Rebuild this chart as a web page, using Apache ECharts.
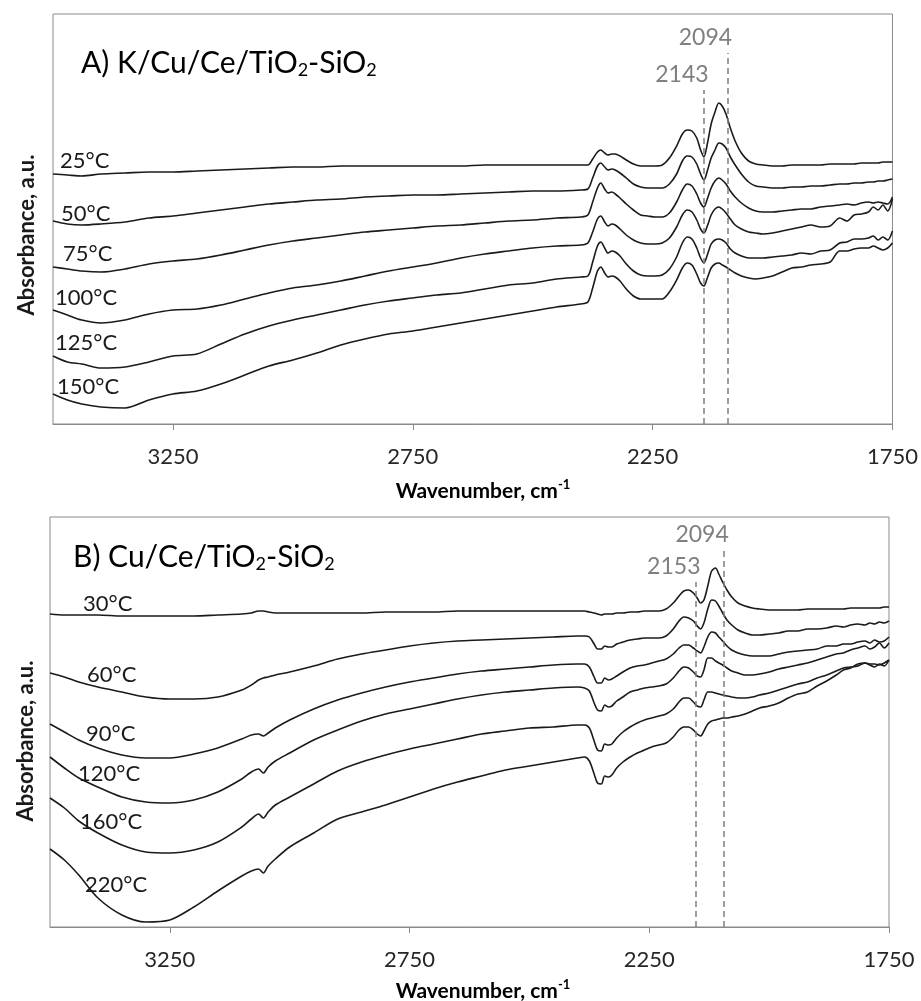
<!DOCTYPE html>
<html>
<head>
<meta charset="utf-8">
<script src="https://cdn.jsdelivr.net/npm/echarts@6/dist/echarts.min.js"></script>
<style>
  html, body { margin: 0; padding: 0; background: #ffffff; }
  #chart { width: 921px; height: 1001px; }
</style>
</head>
<body>
<div id="chart"></div>
<script>
// ---------------- Panel A: K/Cu/Ce/TiO2-SiO2 (CO adsorption, DRIFTS) ----------------
const wnA = [3500,3470,3440,3400,3350,3300,3250,3200,3150,3100,
             3050,3000,2950,2900,2850,2800,2750,2700,2650,2600,
             2550,2500,2450,2400,2385,2375,2365,2358,2350,2343,
             2335,2328,2318,2305,2290,2275,2260,2245,2230,2215,
             2200,2188,2178,2168,2158,2150,2143,2136,2128,2120,
             2112,2105,2097,2088,2078,2065,2050,2035,2020,2000,
             1980,1960,1940,1920,1900,1880,1860,1845,1830,1815,
             1800,1790,1780,1770,1760,1750];

const a25 = [2.50,2.49,2.48,2.50,2.51,2.52,2.52,2.53,2.54,2.55,
             2.56,2.57,2.57,2.58,2.58,2.58,2.58,2.58,2.58,2.59,
             2.59,2.59,2.59,2.59,2.59,2.65,2.72,2.74,2.71,2.69,
             2.70,2.70,2.68,2.64,2.60,2.58,2.58,2.58,2.59,2.66,
             2.78,2.90,2.94,2.93,2.86,2.74,2.67,2.80,3.00,3.12,
             3.21,3.18,3.10,2.96,2.83,2.71,2.63,2.60,2.59,2.58,
             2.58,2.59,2.59,2.59,2.59,2.60,2.60,2.60,2.60,2.61,
             2.61,2.61,2.61,2.62,2.62,2.62];

const a50 = [2.03,2.00,1.99,2.00,2.02,2.06,2.08,2.11,2.14,2.17,
             2.20,2.22,2.24,2.25,2.27,2.28,2.29,2.29,2.30,2.31,
             2.32,2.33,2.33,2.34,2.35,2.46,2.58,2.61,2.57,2.54,
             2.55,2.54,2.51,2.46,2.40,2.37,2.36,2.36,2.36,2.40,
             2.50,2.63,2.68,2.67,2.60,2.50,2.44,2.53,2.66,2.74,
             2.81,2.80,2.76,2.67,2.59,2.50,2.42,2.38,2.37,2.36,
             2.36,2.37,2.37,2.38,2.38,2.39,2.40,2.40,2.41,2.41,
             2.42,2.42,2.43,2.43,2.44,2.45];

const a75 = [1.57,1.55,1.53,1.52,1.55,1.60,1.63,1.65,1.69,1.74,
             1.79,1.83,1.86,1.89,1.92,1.94,1.96,1.98,1.99,2.01,
             2.03,2.04,2.06,2.07,2.09,2.22,2.36,2.41,2.35,2.31,
             2.32,2.30,2.26,2.20,2.14,2.09,2.08,2.07,2.07,2.11,
             2.22,2.34,2.40,2.38,2.30,2.21,2.17,2.25,2.36,2.43,
             2.46,2.44,2.40,2.33,2.27,2.21,2.16,2.13,2.12,2.12,
             2.13,2.14,2.15,2.15,2.17,2.18,2.19,2.20,2.19,2.21,
             2.22,2.21,2.22,2.21,2.20,2.27];

const a100 = [1.14,1.09,1.04,1.01,1.04,1.10,1.14,1.15,1.19,1.25,
              1.31,1.36,1.39,1.43,1.48,1.53,1.57,1.61,1.66,1.70,
              1.73,1.76,1.78,1.79,1.81,1.92,2.05,2.08,2.02,1.98,
              2.00,1.99,1.95,1.89,1.84,1.81,1.80,1.80,1.81,1.86,
              1.97,2.09,2.14,2.12,2.04,1.95,1.91,1.98,2.09,2.15,
              2.17,2.15,2.11,2.05,1.99,1.95,1.92,1.91,1.90,1.91,
              1.93,1.95,1.97,1.99,1.97,1.98,2.06,2.03,2.09,2.10,
              2.12,2.17,2.14,2.19,2.13,2.25];

const a125 = [0.68,0.62,0.60,0.56,0.57,0.62,0.68,0.70,0.80,0.90,
              0.98,1.04,1.09,1.14,1.19,1.23,1.26,1.29,1.31,1.35,
              1.39,1.41,1.45,1.47,1.48,1.62,1.78,1.82,1.76,1.71,
              1.73,1.72,1.68,1.60,1.53,1.49,1.48,1.48,1.49,1.55,
              1.67,1.81,1.87,1.85,1.76,1.66,1.61,1.69,1.80,1.84,
              1.85,1.84,1.81,1.75,1.71,1.68,1.66,1.66,1.66,1.67,
              1.68,1.69,1.71,1.70,1.73,1.74,1.81,1.82,1.85,1.85,
              1.86,1.88,1.84,1.87,1.84,1.93];

const a150 = [0.30,0.24,0.20,0.17,0.16,0.24,0.30,0.33,0.40,0.49,
              0.58,0.64,0.71,0.79,0.85,0.90,0.93,0.97,1.01,1.05,
              1.09,1.13,1.17,1.20,1.22,1.36,1.53,1.57,1.51,1.47,
              1.48,1.47,1.43,1.35,1.28,1.25,1.25,1.25,1.25,1.32,
              1.44,1.56,1.61,1.59,1.50,1.41,1.38,1.46,1.56,1.60,
              1.61,1.59,1.57,1.54,1.51,1.48,1.46,1.45,1.46,1.48,
              1.52,1.56,1.57,1.59,1.60,1.62,1.73,1.73,1.75,1.76,
              1.76,1.78,1.76,1.74,1.76,1.81];

const tempsA = ['25°C', '50°C', '75°C', '100°C', '125°C', '150°C'];
const peaksA = [2143, 2094];
const peakTopsA = [3.34, 3.71];

// ---------------- Panel B: Cu/Ce/TiO2-SiO2 ----------------
const wnB = [3500,3470,3440,3400,3350,3300,3250,3200,3150,3100,
             3080,3065,3055,3045,3030,3000,2950,2900,2850,2800,
             2750,2700,2650,2600,2550,2500,2450,2400,2385,2375,
             2365,2358,2350,2343,2335,2328,2318,2305,2290,2275,
             2260,2245,2230,2215,2200,2188,2178,2168,2158,2150,
             2143,2136,2128,2120,2112,2105,2097,2088,2078,2065,
             2050,2035,2020,2000,1980,1960,1940,1920,1900,1880,
             1860,1845,1830,1815,1800,1790,1780,1770,1760,1750];

const b30 = [3.13,3.12,3.12,3.12,3.11,3.11,3.11,3.11,3.12,3.13,
             3.14,3.16,3.16,3.15,3.14,3.14,3.14,3.14,3.14,3.15,
             3.15,3.15,3.16,3.16,3.16,3.16,3.16,3.16,3.16,3.15,
             3.14,3.13,3.12,3.13,3.13,3.13,3.14,3.14,3.15,3.15,
             3.16,3.16,3.16,3.18,3.24,3.31,3.36,3.37,3.34,3.29,
             3.24,3.27,3.41,3.56,3.59,3.53,3.45,3.37,3.30,3.24,
             3.21,3.19,3.18,3.17,3.17,3.17,3.17,3.18,3.18,3.18,
             3.18,3.18,3.19,3.19,3.19,3.19,3.19,3.19,3.20,3.20];

const b60 = [2.54,2.50,2.45,2.40,2.35,2.30,2.28,2.28,2.30,2.37,
             2.42,2.47,2.49,2.50,2.52,2.55,2.61,2.68,2.73,2.77,
             2.81,2.84,2.86,2.87,2.88,2.89,2.90,2.91,2.91,2.90,
             2.83,2.78,2.78,2.81,2.80,2.80,2.83,2.85,2.87,2.88,
             2.89,2.89,2.89,2.91,2.98,3.06,3.10,3.09,3.06,3.01,
             2.98,3.04,3.18,3.27,3.26,3.21,3.14,3.07,3.02,2.97,
             2.94,2.92,2.92,2.93,2.94,2.96,2.96,2.98,2.98,2.99,
             3.01,3.00,3.02,3.03,3.02,3.04,3.03,3.05,3.04,3.06];

const b90 = [2.03,1.95,1.87,1.79,1.72,1.69,1.69,1.73,1.79,1.88,
             1.92,1.93,1.91,1.94,1.99,2.07,2.18,2.27,2.34,2.40,
             2.45,2.49,2.53,2.56,2.58,2.60,2.62,2.63,2.63,2.60,
             2.50,2.44,2.44,2.49,2.47,2.48,2.51,2.55,2.59,2.61,
             2.62,2.64,2.66,2.68,2.73,2.79,2.82,2.82,2.79,2.76,
             2.74,2.80,2.90,2.95,2.94,2.90,2.86,2.81,2.77,2.74,
             2.72,2.71,2.71,2.71,2.73,2.75,2.76,2.77,2.78,2.81,
             2.81,2.83,2.83,2.85,2.86,2.84,2.87,2.85,2.86,2.90];

const b120 = [1.70,1.59,1.49,1.40,1.30,1.25,1.24,1.27,1.35,1.48,
              1.55,1.58,1.54,1.60,1.66,1.74,1.87,1.97,2.06,2.13,
              2.18,2.23,2.28,2.32,2.35,2.37,2.39,2.40,2.39,2.36,
              2.24,2.17,2.16,2.22,2.20,2.21,2.26,2.30,2.35,2.37,
              2.39,2.40,2.41,2.43,2.49,2.56,2.60,2.59,2.55,2.51,
              2.50,2.57,2.69,2.69,2.66,2.64,2.62,2.59,2.56,2.54,
              2.52,2.52,2.53,2.55,2.58,2.60,2.62,2.64,2.67,2.70,
              2.73,2.74,2.77,2.79,2.81,2.78,2.80,2.84,2.79,2.84];

const b160 = [1.29,1.19,1.06,0.94,0.82,0.75,0.74,0.77,0.85,1.00,
              1.08,1.13,1.09,1.15,1.22,1.30,1.43,1.56,1.65,1.72,
              1.78,1.83,1.88,1.93,1.96,1.99,2.00,2.02,2.02,1.99,
              1.86,1.77,1.76,1.83,1.82,1.83,1.89,1.95,2.00,2.04,
              2.07,2.09,2.11,2.13,2.18,2.25,2.29,2.29,2.25,2.21,
              2.20,2.27,2.35,2.35,2.34,2.33,2.32,2.31,2.30,2.29,
              2.29,2.30,2.32,2.34,2.37,2.40,2.43,2.45,2.49,2.52,
              2.56,2.59,2.60,2.61,2.64,2.63,2.63,2.62,2.64,2.67];

const b220 = [0.78,0.67,0.52,0.29,0.12,0.05,0.07,0.20,0.36,0.51,
              0.56,0.58,0.54,0.61,0.68,0.80,0.94,1.08,1.15,1.22,
              1.30,1.38,1.45,1.51,1.57,1.61,1.65,1.69,1.70,1.66,
              1.53,1.44,1.43,1.51,1.50,1.52,1.59,1.65,1.70,1.74,
              1.77,1.80,1.82,1.84,1.90,1.97,2.00,2.00,1.97,1.93,
              1.91,1.96,2.03,2.06,2.07,2.08,2.09,2.09,2.10,2.11,
              2.13,2.16,2.19,2.21,2.24,2.29,2.33,2.35,2.41,2.46,
              2.52,2.57,2.59,2.63,2.64,2.62,2.60,2.63,2.61,2.67];

const tempsB = ['30°C', '60°C', '90°C', '120°C', '160°C', '220°C'];
const peaksB = [2153, 2094];
const peakTopsB = [3.45, 3.77];

const xTicks = [3250, 2750, 2250, 1750];

// ---------------- drawing ----------------
const FONT = 'Lato, "Open Sans", sans-serif';
const INK = '#1a1a1a';
const FRAME = '#8a8a8a';
const PEAK = '#7f7f7f';

function spectrum(name, wn, vals, panel) {
  return {
    type: 'line', name: name,
    xAxisIndex: panel, yAxisIndex: panel,
    data: wn.map((w, i) => [w, vals[i]]),
    symbol: 'none', showSymbol: false,
    smooth: 0.3,
    lineStyle: { color: INK, width: 1.6 },
    silent: true, z: 3
  };
}

// dashed guide lines at the assigned band positions, number written just left of the line top
function peakLines(peaks, tops, panel) {
  return {
    type: 'line', xAxisIndex: panel, yAxisIndex: panel,
    data: [], silent: true, z: 2,
    markLine: {
      silent: true, symbol: ['none', 'none'], animation: false,
      lineStyle: { color: PEAK, type: [6, 4], width: 1.5 },
      label: { show: true, position: 'end', formatter: '{b}', color: PEAK,
               fontFamily: FONT, fontSize: 23, distance: 4, padding: [0, 44, 0, 0] },
      data: peaks.map((p, i) => [
        { coord: [p, 0], name: String(p) },
        { coord: [p, tops[i]] }
      ])
    }
  };
}

function xAxis(grid) {
  return {
    type: 'value', gridIndex: grid, inverse: true,
    min: 1750, max: 3500, interval: 500,
    axisLine: { show: true, lineStyle: { color: FRAME, width: 1 } },
    axisTick: { show: true, length: 6, inside: false, customValues: xTicks,
                lineStyle: { color: FRAME, width: 1 } },
    axisLabel: { show: true, customValues: xTicks, showMinLabel: true, showMaxLabel: true,
                 formatter: v => String(v),
                 margin: 22, color: '#262626', fontFamily: FONT, fontSize: 22 },
    splitLine: { show: false }
  };
}

function yAxis(grid) {
  return {
    type: 'value', gridIndex: grid, min: 0, max: 4.1,
    axisLine: { show: false }, axisTick: { show: false },
    axisLabel: { show: false }, splitLine: { show: false }
  };
}

const seriesA = [a25, a50, a75, a100, a125, a150];
const seriesB = [b30, b60, b90, b120, b160, b220];

// label anchors (left edge, vertical middle) in pixels
const labelLayoutA = [[60, 161], [61, 214], [63, 254], [55, 298], [55, 343], [57, 387]];
const labelLayoutB = [[83, 604], [87, 675], [86, 734], [78, 774], [80, 822], [85, 885]];

const subRich = {
  m: { fontFamily: FONT, fontSize: 30, color: INK, lineHeight: 33 },
  s: { fontFamily: FONT, fontSize: 18, color: INK, lineHeight: 13, verticalAlign: 'bottom' }
};
const supRich = {
  b: { fontFamily: FONT, fontSize: 21, fontWeight: 'bold', color: INK, lineHeight: 26 },
  p: { fontFamily: FONT, fontSize: 13, fontWeight: 'bold', color: INK, lineHeight: 13, verticalAlign: 'top' }
};

const graphics = [];
labelLayoutA.forEach((p, i) => graphics.push({
  type: 'text', x: p[0], y: p[1], silent: true,
  style: { text: tempsA[i], fill: INK, font: '22px ' + FONT, textAlign: 'left', textVerticalAlign: 'middle' }
}));
labelLayoutB.forEach((p, i) => graphics.push({
  type: 'text', x: p[0], y: p[1], silent: true,
  style: { text: tempsB[i], fill: INK, font: '22px ' + FONT, textAlign: 'left', textVerticalAlign: 'middle' }
}));
// panel titles
graphics.push({ type: 'text', x: 81, y: 63, silent: true,
  style: { text: '{m|A) K/Cu/Ce/TiO}{s|2}{m|-SiO}{s|2}', rich: subRich, textAlign: 'left', textVerticalAlign: 'middle' } });
graphics.push({ type: 'text', x: 73, y: 557, silent: true,
  style: { text: '{m|B) Cu/Ce/TiO}{s|2}{m|-SiO}{s|2}', rich: subRich, textAlign: 'left', textVerticalAlign: 'middle' } });
// axis titles
[[483, 491], [483, 991]].forEach(p => graphics.push({
  type: 'text', x: p[0], y: p[1], silent: true,
  style: { text: '{b|Wavenumber, cm}{p|-1}', rich: supRich, textAlign: 'center', textVerticalAlign: 'middle' }
}));
[[27, 235], [26, 741]].forEach(p => graphics.push({
  type: 'text', x: p[0], y: p[1], rotation: Math.PI / 2, silent: true,
  style: { text: 'Absorbance, a.u.', fill: INK, font: 'bold 22px ' + FONT, textAlign: 'center', textVerticalAlign: 'middle' }
}));

const option = {
  backgroundColor: '#ffffff',
  animation: false,
  grid: [
    { left: 53, top: 14, width: 840, height: 410, show: true, borderColor: FRAME, borderWidth: 1, backgroundColor: 'transparent' },
    { left: 50, top: 517, width: 839, height: 410, show: true, borderColor: FRAME, borderWidth: 1, backgroundColor: 'transparent' }
  ],
  xAxis: [xAxis(0), xAxis(1)],
  yAxis: [yAxis(0), yAxis(1)],
  series: [
    ...seriesA.map((v, i) => spectrum(tempsA[i], wnA, v, 0)),
    ...seriesB.map((v, i) => spectrum(tempsB[i], wnB, v, 1)),
    peakLines(peaksA, peakTopsA, 0),
    peakLines(peaksB, peakTopsB, 1)
  ],
  graphic: graphics
};

const chart = echarts.init(document.getElementById('chart'), null, { renderer: 'canvas' });
chart.setOption(option);
</script>
</body>
</html>
